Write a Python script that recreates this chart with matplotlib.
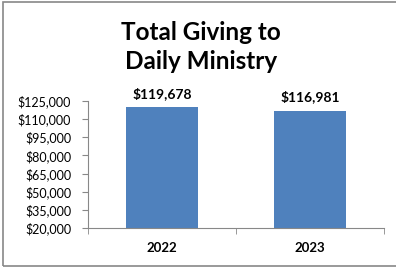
import matplotlib
matplotlib.use("Agg")
import matplotlib.pyplot as plt
from matplotlib.patches import Rectangle
from matplotlib.ticker import FuncFormatter, FixedLocator

years = ["2022", "2023"]
giving = [119678, 116981]
yticks = [20000, 35000, 50000, 65000, 80000, 95000, 110000, 125000]

plt.rcParams['font.family'] = ['Lato', 'DejaVu Sans']

fig = plt.figure(figsize=(3.96, 2.69), dpi=100)
ax = fig.add_axes([0.222, 0.152, 0.748, 0.473])

x = range(len(years))
bars = ax.bar(x, giving, width=0.49, color="#4F81BD", zorder=2)
ax.set_xlim(-0.5, len(years) - 0.5)
ax.set_ylim(yticks[0], yticks[-1])

for b, v in zip(bars, giving):
    ax.text(b.get_x() + b.get_width() / 2, v + 6000, "${:,}".format(v),
            ha="center", va="bottom", fontsize=10, fontweight="bold")

ax.set_yticks(yticks)
ax.yaxis.set_major_formatter(FuncFormatter(lambda v, p: "${:,.0f}".format(v)))
ax.set_xticks(list(x))
ax.set_xticklabels(years, fontweight="bold", fontsize=9.5)
ax.xaxis.set_minor_locator(FixedLocator([-0.5, 0.5, 1.5]))
ax.tick_params(axis="x", which="major", length=0, pad=10)
ax.tick_params(axis="x", which="minor", length=4, direction="out", color="#888888")
ax.tick_params(axis="y", length=4, color="#888888", labelsize=9, pad=8)

for s in ["top", "right"]:
    ax.spines[s].set_visible(False)
for s in ["left", "bottom"]:
    ax.spines[s].set_color("#888888")
    ax.spines[s].set_linewidth(0.8)

fig.text(0.508, 0.826, "Total Giving to\nDaily Ministry", ha="center", va="center",
         fontsize=17.5, fontweight="bold", linespacing=1.32)

fig.patches.append(Rectangle((0.008, 0.011), 1.1, 0.98, transform=fig.transFigure,
                             fill=False, edgecolor="#888888", linewidth=1.2))

fig.savefig("out.png", dpi=100)
